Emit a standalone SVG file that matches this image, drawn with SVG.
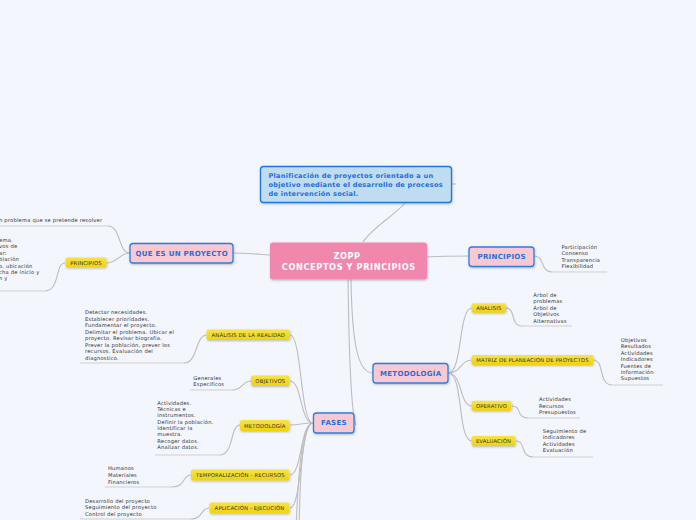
<svg xmlns="http://www.w3.org/2000/svg" width="696" height="520" viewBox="0 0 696 520">
<defs>
<filter id="sh" x="-20%" y="-30%" width="140%" height="170%">
<feDropShadow dx="0.5" dy="1" stdDeviation="0.8" flood-color="#000" flood-opacity="0.25"/>
</filter>
<linearGradient id="yg" x1="0" y1="0" x2="0" y2="1">
<stop offset="0" stop-color="#F7E34A"/>
<stop offset="1" stop-color="#EFD20C"/>
</linearGradient>
<style>
.bg{fill:#F3F6FD}
.c{fill:none;stroke:#BDBDBD;stroke-width:1.1}
.u{fill:none;stroke:#CFCFCF;stroke-width:1}
.pk{fill:#FAC8D3;stroke:#2B7DE2;stroke-width:1.3}
.yl{fill:url(#yg)}
.tp{font-family:"DejaVu Sans",Verdana,sans-serif;font-weight:bold;font-size:7px;letter-spacing:0.3px;fill:#1F70D8;text-anchor:middle;dominant-baseline:central}
.ty{font-family:"DejaVu Sans",Verdana,sans-serif;font-size:5.3px;letter-spacing:0.15px;fill:#333;text-anchor:middle;dominant-baseline:central}
.tc{font-family:"DejaVu Sans",Verdana,sans-serif;font-size:5.2px;letter-spacing:0.2px;fill:#333;dominant-baseline:central}
</style>
</defs>
<rect class="bg" x="0" y="0" width="696" height="520"/>

<g id="connectors">
<path class="c" d="M405,203 C395,215 372,228 363,242"/>
<path class="c" d="M451,184 H456"/>
<path class="c" d="M270,255 C255,254 245,253 233,253"/>
<path class="c" d="M427,257 C445,256 455,256 469,256"/>
<path class="c" d="M351,279 C352,345 358,373 373,373"/>
<path class="c" d="M348,279 C349,360 352,415 356,425"/>
<path class="c" d="M130,253 C118,253 121,226 108,226"/>
<path class="u" d="M108,226 H0"/>
<path class="c" d="M130,253 C119,253 118,263 106,263"/>
<path class="c" d="M65,263 C55,263 60,291 45,291"/>
<path class="u" d="M45,291 H0"/>
<path class="c" d="M534,256 C545,256 540,272 552,272"/>
<path class="u" d="M552,272 H607"/>
<path class="c" d="M448,373 C463,373 458,308 472,308"/>
<path class="c" d="M448,373 C462,373 460,360 472,360"/>
<path class="c" d="M448,373 C463,373 459,406 472,406"/>
<path class="c" d="M448,373 C464,373 457,441 472,441"/>
<path class="c" d="M506,308 C516,308 510,326 522,326"/>
<path class="u" d="M522,326 H572"/>
<path class="c" d="M593,360 C605,360 598,385 612,385"/>
<path class="u" d="M612,385 H663"/>
<path class="c" d="M512,406 C522,406 516,418 528,418"/>
<path class="u" d="M528,418 H580"/>
<path class="c" d="M516,441 C526,441 520,457 533,457"/>
<path class="u" d="M533,457 H593"/>
<path class="c" d="M313,423 C300,423 302,335 290,335"/>
<path class="c" d="M313,423 C300,423 302,381 290,381"/>
<path class="c" d="M313,423 C302,423 300,425 290,425"/>
<path class="c" d="M313,423 C300,423 302,475 290,475"/>
<path class="c" d="M313,423 C300,423 302,508 290,508"/>
<path class="c" d="M313,423 C301,423 298,480 296,530"/>
<path class="c" d="M313,423 C302,423 300,480 299,530"/>
<path class="c" d="M207,335 C195,335 198,363 184,363"/>
<path class="u" d="M184,363 H80"/>
<path class="c" d="M251,381 C242,381 243,390 232,390"/>
<path class="u" d="M232,390 H190"/>
<path class="c" d="M240,425 C230,425 234,455 220,455"/>
<path class="u" d="M220,455 H155"/>
<path class="c" d="M191,475 C182,475 186,487 172,487"/>
<path class="u" d="M172,487 H105"/>
<path class="c" d="M209,508 C200,508 204,519 190,519"/>
<path class="u" d="M190,519 H80"/>
</g>

<g id="top-note">
<rect x="260.5" y="166.5" width="191" height="36" rx="3" fill="#BFDCF0" stroke="#1F78E0" stroke-width="1.3" filter="url(#sh)"/>
<text font-family="DejaVu Sans,Verdana,sans-serif" font-weight="bold" font-size="6.6" letter-spacing="0.25" fill="#1F70D8" dominant-baseline="central">
<tspan x="268.5" y="176.3">Planificación de proyectos orientado a un</tspan>
<tspan x="268.5" y="185">objetivo mediante el desarrollo de procesos</tspan>
<tspan x="268.5" y="193.7">de intervención social.</tspan>
</text>
</g>

<g id="central">
<rect x="270" y="242.5" width="157" height="37" rx="3" fill="#F287AE" filter="url(#sh)"/>
<text font-family="DejaVu Sans,Verdana,sans-serif" font-weight="bold" font-size="8.2" letter-spacing="0.6" fill="#fff" text-anchor="middle" dominant-baseline="central">
<tspan x="348.8" y="256">ZOPP</tspan>
<tspan x="348.8" y="266.8">CONCEPTOS Y PRINCIPIOS</tspan>
</text>
</g>

<g id="que-es">
<rect class="pk" x="130" y="243.5" width="103" height="19.5" rx="3" filter="url(#sh)"/>
<text class="tp" x="181.7" y="253.5">QUE ES UN PROYECTO</text>
</g>
<g id="que-es-text">
<text class="tc" font-size="5.3" x="-1" y="220">n problema que se pretende resolver</text>
</g>
<g id="principios-left">
<rect class="yl" x="65.5" y="257.5" width="41" height="10" rx="2" filter="url(#sh)"/>
<text class="ty" x="86" y="262.7">PRINCIPIOS</text>
</g>
<g id="principios-left-text">
<text class="tc">
<tspan x="-1" y="240">ema.</tspan>
<tspan x="-1" y="246.4">vos de</tspan>
<tspan x="-1" y="252.8">ar:</tspan>
<tspan x="-1" y="259.2">blación</tspan>
<tspan x="-1" y="265.6">o.  ubicación</tspan>
<tspan x="-1" y="272">cha de inicio y</tspan>
<tspan x="-1" y="278.4">n y</tspan>
</text>
</g>

<g id="principios">
<rect class="pk" x="469" y="247" width="65" height="19.5" rx="3" filter="url(#sh)"/>
<text class="tp" x="501.7" y="257">PRINCIPIOS</text>
</g>
<g id="principios-text">
<text class="tc">
<tspan x="561.5" y="247">Participación</tspan>
<tspan x="561.5" y="253.4">Consenso</tspan>
<tspan x="561.5" y="259.8">Transparencia</tspan>
<tspan x="561.5" y="266.2">Flexibilidad</tspan>
</text>
</g>

<g id="metodologia">
<rect class="pk" x="373" y="363.5" width="75" height="19.5" rx="3" filter="url(#sh)"/>
<text class="tp" x="410.7" y="373.5">METODOLOGÍA</text>
</g>
<g id="analisis">
<rect class="yl" x="471.5" y="303.3" width="34.5" height="9.5" rx="2" filter="url(#sh)"/>
<text class="ty" x="488.8" y="308.2">ANALISIS</text>
<text class="tc">
<tspan x="533.3" y="295">Árbol de</tspan>
<tspan x="533.3" y="301.4">problemas</tspan>
<tspan x="533.3" y="307.8">Árbol de</tspan>
<tspan x="533.3" y="314.2">Objetivos</tspan>
<tspan x="533.3" y="320.6">Alternativas</tspan>
</text>
</g>
<g id="matriz">
<rect class="yl" x="471.5" y="355" width="122" height="10" rx="2" filter="url(#sh)"/>
<text class="ty" x="532.5" y="360.2">MATRIZ DE PLANEACION DE PROYECTOS</text>
<text class="tc">
<tspan x="620.7" y="340">Objetivos</tspan>
<tspan x="620.7" y="346.4">Resultados</tspan>
<tspan x="620.7" y="352.8">Actividades</tspan>
<tspan x="620.7" y="359.2">Indicadores</tspan>
<tspan x="620.7" y="365.6">Fuentes de</tspan>
<tspan x="620.7" y="372">información</tspan>
<tspan x="620.7" y="378.4">Supuestos</tspan>
</text>
</g>
<g id="operativo">
<rect class="yl" x="471.5" y="400.7" width="40" height="10" rx="2" filter="url(#sh)"/>
<text class="ty" x="491.5" y="405.9">OPERATIVO</text>
<text class="tc">
<tspan x="539" y="399">Actividades</tspan>
<tspan x="539" y="405.5">Recursos</tspan>
<tspan x="539" y="412">Presupuestos</tspan>
</text>
</g>
<g id="evaluacion">
<rect class="yl" x="471.5" y="436" width="44" height="10" rx="2" filter="url(#sh)"/>
<text class="ty" x="493.5" y="441.2">EVALUACIÓN</text>
<text class="tc">
<tspan x="542.7" y="431">Seguimiento de</tspan>
<tspan x="542.7" y="437.4">indicadores</tspan>
<tspan x="542.7" y="443.8">Actividades</tspan>
<tspan x="542.7" y="450.2">Evaluación</tspan>
</text>
</g>

<g id="fases">
<rect class="pk" x="313.5" y="413" width="40.5" height="20" rx="3" filter="url(#sh)"/>
<text class="tp" x="334" y="423.2">FASES</text>
</g>
<g id="analisis-realidad">
<rect class="yl" x="206.5" y="329.5" width="83.5" height="10.5" rx="2" filter="url(#sh)"/>
<text class="ty" x="248.3" y="335">ANÁLISIS DE LA REALIDAD</text>
<text class="tc">
<tspan x="85" y="312">Detectar necesidades.</tspan>
<tspan x="85" y="318.5">Establecer prioridades.</tspan>
<tspan x="85" y="325">Fundamentar el proyecto.</tspan>
<tspan x="85" y="331.5">Delimitar el problema.  Ubicar el</tspan>
<tspan x="85" y="338">proyecto.  Revisar biografía.</tspan>
<tspan x="85" y="344.5">Prever la población,  prever los</tspan>
<tspan x="85" y="351">recursos.  Evaluación del</tspan>
<tspan x="85" y="357.5">diagnostico.</tspan>
</text>
</g>
<g id="objetivos">
<rect class="yl" x="251" y="375.5" width="38.5" height="10.5" rx="2" filter="url(#sh)"/>
<text class="ty" x="270.3" y="381">OBJETIVOS</text>
<text class="tc">
<tspan x="193.3" y="377.5">Generales</tspan>
<tspan x="193.3" y="384">Especificos</tspan>
</text>
</g>
<g id="metodologia-fase">
<rect class="yl" x="240" y="420" width="49.5" height="11" rx="2" filter="url(#sh)"/>
<text class="ty" x="264.8" y="425.7">METODOLOGÍA</text>
<text class="tc">
<tspan x="157.3" y="402.7">Actividades.</tspan>
<tspan x="157.3" y="409">Técnicas e</tspan>
<tspan x="157.3" y="415.3">instrumentos.</tspan>
<tspan x="157.3" y="421.6">Definir la población.</tspan>
<tspan x="157.3" y="427.9">Identificar la</tspan>
<tspan x="157.3" y="434.2">muestra.</tspan>
<tspan x="157.3" y="440.5">Recoger datos.</tspan>
<tspan x="157.3" y="446.8">Analizar datos.</tspan>
</text>
</g>
<g id="temporalizacion">
<rect class="yl" x="191" y="469.5" width="98.5" height="11" rx="2" filter="url(#sh)"/>
<text class="ty" x="240.3" y="475.2">TEMPORALIZACIÓN - RECURSOS</text>
<text class="tc">
<tspan x="108" y="467.7">Humanos</tspan>
<tspan x="108" y="474.7">Materiales</tspan>
<tspan x="108" y="481.7">Financieros</tspan>
</text>
</g>
<g id="aplicacion">
<rect class="yl" x="209.5" y="502.5" width="80" height="11" rx="2" filter="url(#sh)"/>
<text class="ty" x="249.5" y="508.2">APLICACIÓN - EJECUCIÓN</text>
<text class="tc">
<tspan x="85" y="500.7">Desarrollo del proyecto</tspan>
<tspan x="85" y="507.2">Seguimiento del proyecto</tspan>
<tspan x="85" y="513.7">Control del proyecto</tspan>
</text>
</g>
</svg>
